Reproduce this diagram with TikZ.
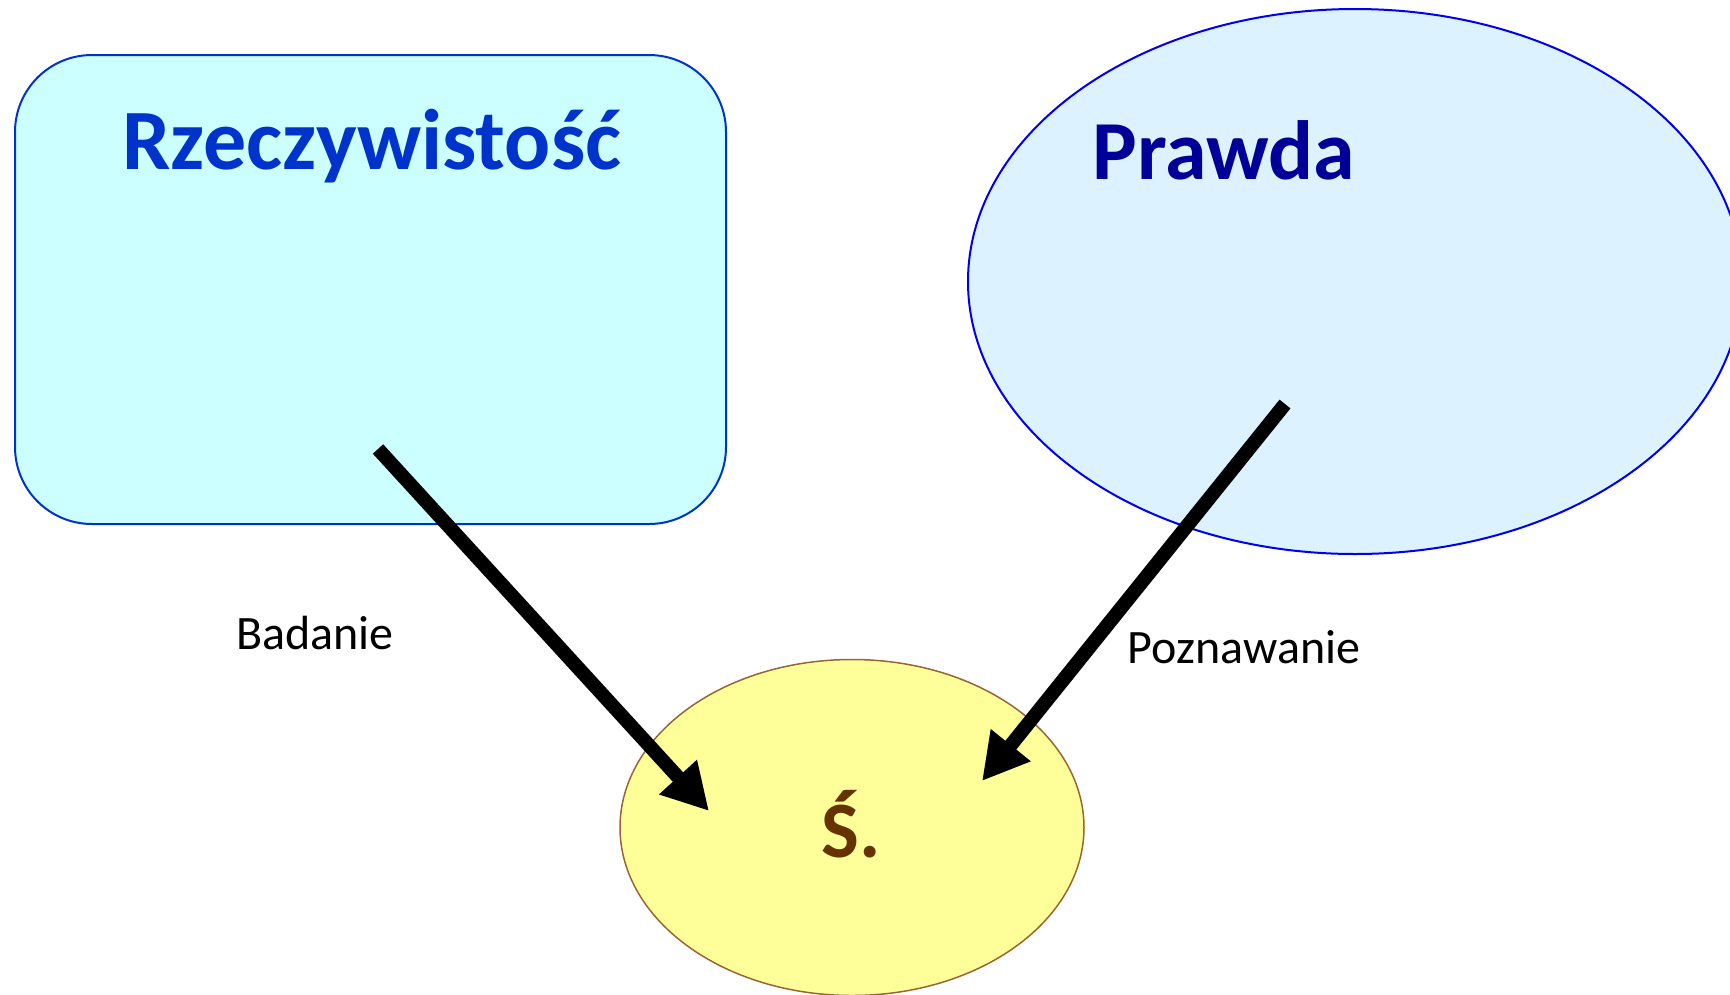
\documentclass[tikz,border=0pt]{standalone}
\usepackage{fontspec}
\setmainfont{Carlito}
\usetikzlibrary{shapes.geometric,arrows.meta}
\definecolor{rectfill}{HTML}{CCFFFF}
\definecolor{rectline}{HTML}{0033CC}
\definecolor{ellfill}{HTML}{DDF2FF}
\definecolor{ellline}{HTML}{0000EE}
\definecolor{prawdacol}{HTML}{000099}
\definecolor{yelfill}{HTML}{FFFF99}
\definecolor{yelline}{HTML}{996633}
\definecolor{scol}{HTML}{663300}
\tikzset{
  bigarrow/.style={line width=14pt,-{Triangle[length=46pt,width=48pt]}},
  lbl/.style={font=\fontsize{48}{52}\selectfont,anchor=base,inner sep=0pt},
}
\begin{document}
\begin{tikzpicture}[x=1pt,y=-1pt]
\useasboundingbox (0,0) rectangle (1730,994);
\clip (0,0) rectangle (1730,994);
\node[draw=rectline,fill=rectfill,line width=2pt,rounded corners=77pt,
  minimum width=711pt,minimum height=469pt,inner sep=0pt] (real) at (370.5,289.5) {};
\node[ellipse,draw=ellline,fill=ellfill,line width=2pt,
  minimum width=774pt,minimum height=545pt,inner sep=0pt] (truth) at (1355,281.5) {};
\node[ellipse,draw=yelline,fill=yelfill,line width=1.5pt,
  minimum width=464pt,minimum height=336pt,inner sep=0pt] (mind) at (852,827.5) {};
\node[font=\bfseries\fontsize{86}{92}\selectfont,text=rectline,anchor=base,inner sep=0pt] (t1) at (372,169) {Rzeczywistość};
\node[font=\bfseries\fontsize{84}{90}\selectfont,text=prawdacol,anchor=base,inner sep=0pt] (t2) at (1224,179) {Prawda};
\node[font=\bfseries\fontsize{80}{86}\selectfont,text=scol,anchor=base,inner sep=0pt] (t3) at (851,857) {Ś.};
\node[lbl] (badanie) at (315,649) {Badanie};
\node[lbl] (poznawanie) at (1244,663) {Poznawanie};
\coordinate (a1s) at (378,449);
\coordinate (a1e) at (709,811);
\coordinate (a2s) at (1285,404);
\coordinate (a2e) at (982,781);
\draw[bigarrow] (a1s) -- (a1e);
\draw[bigarrow] (a2s) -- (a2e);
\end{tikzpicture}
\end{document}
